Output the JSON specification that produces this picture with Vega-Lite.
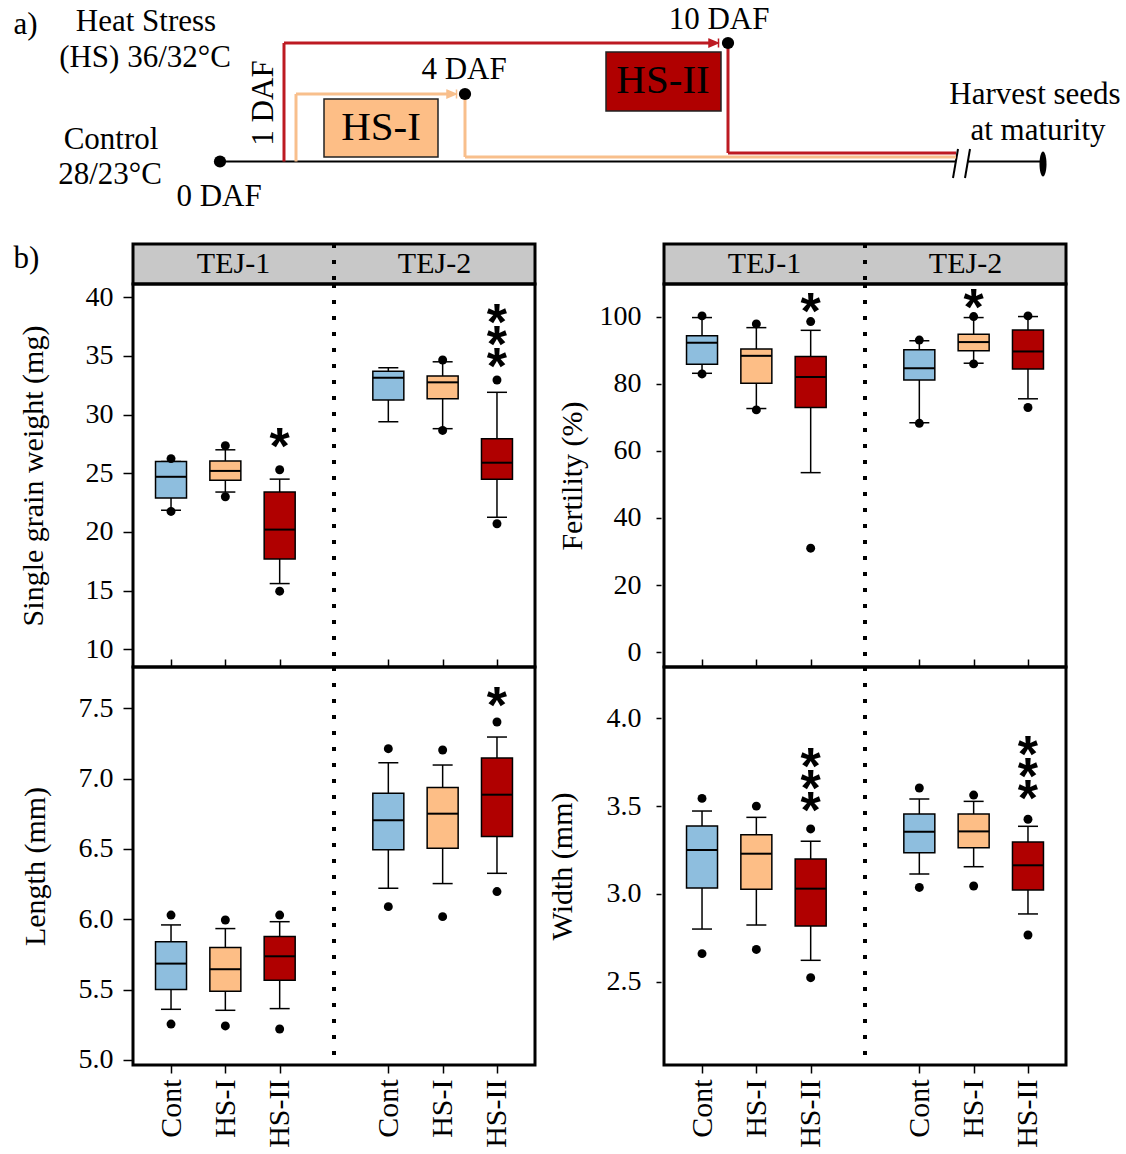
{
  "$schema": "https://vega.github.io/schema/vega-lite/v6.json",
  "padding": {"left": 11, "top": 0, "right": 0, "bottom": 0},
  "autosize": {"type": "pad"},
  "spacing": -4,
  "resolve": {"scale": {"x": "independent", "y": "independent", "color": "independent", "stroke": "independent"}},
  "datasets": {
    "boxes": [
      {"panel": "weight", "geno": "TEJ-1", "trt": "Cont", "group": "TEJ-1 Cont", "lo": 21.85, "q1": 22.9, "med": 24.7, "q3": 26.0, "hi": 26.0},
      {"panel": "weight", "geno": "TEJ-1", "trt": "HS-I", "group": "TEJ-1 HS-I", "lo": 23.4, "q1": 24.4, "med": 25.2, "q3": 26.05, "hi": 27.0},
      {"panel": "weight", "geno": "TEJ-1", "trt": "HS-II", "group": "TEJ-1 HS-II", "lo": 15.6, "q1": 17.7, "med": 20.2, "q3": 23.4, "hi": 24.5},
      {"panel": "weight", "geno": "TEJ-2", "trt": "Cont", "group": "TEJ-2 Cont", "lo": 29.4, "q1": 31.25, "med": 33.15, "q3": 33.7, "hi": 34.0},
      {"panel": "weight", "geno": "TEJ-2", "trt": "HS-I", "group": "TEJ-2 HS-I", "lo": 28.8, "q1": 31.35, "med": 32.75, "q3": 33.3, "hi": 34.5},
      {"panel": "weight", "geno": "TEJ-2", "trt": "HS-II", "group": "TEJ-2 HS-II", "lo": 21.25, "q1": 24.5, "med": 25.9, "q3": 27.95, "hi": 31.9},
      {"panel": "fertility", "geno": "TEJ-1", "trt": "Cont", "group": "TEJ-1 Cont", "lo": 83.1, "q1": 85.8, "med": 92.2, "q3": 94.3, "hi": 99.7},
      {"panel": "fertility", "geno": "TEJ-1", "trt": "HS-I", "group": "TEJ-1 HS-I", "lo": 72.6, "q1": 80.1, "med": 88.3, "q3": 90.3, "hi": 96.7},
      {"panel": "fertility", "geno": "TEJ-1", "trt": "HS-II", "group": "TEJ-1 HS-II", "lo": 53.5, "q1": 72.9, "med": 82.0, "q3": 88.1, "hi": 95.9},
      {"panel": "fertility", "geno": "TEJ-2", "trt": "Cont", "group": "TEJ-2 Cont", "lo": 68.4, "q1": 81.1, "med": 84.6, "q3": 90.1, "hi": 92.8},
      {"panel": "fertility", "geno": "TEJ-2", "trt": "HS-I", "group": "TEJ-2 HS-I", "lo": 86.1, "q1": 89.8, "med": 92.4, "q3": 94.7, "hi": 99.7},
      {"panel": "fertility", "geno": "TEJ-2", "trt": "HS-II", "group": "TEJ-2 HS-II", "lo": 75.5, "q1": 84.4, "med": 89.6, "q3": 96.0, "hi": 100.0},
      {"panel": "length", "geno": "TEJ-1", "trt": "Cont", "group": "TEJ-1 Cont", "lo": 5.36, "q1": 5.5, "med": 5.685, "q3": 5.84, "hi": 5.96},
      {"panel": "length", "geno": "TEJ-1", "trt": "HS-I", "group": "TEJ-1 HS-I", "lo": 5.353, "q1": 5.488, "med": 5.645, "q3": 5.8, "hi": 5.934},
      {"panel": "length", "geno": "TEJ-1", "trt": "HS-II", "group": "TEJ-1 HS-II", "lo": 5.365, "q1": 5.566, "med": 5.737, "q3": 5.877, "hi": 5.983},
      {"panel": "length", "geno": "TEJ-2", "trt": "Cont", "group": "TEJ-2 Cont", "lo": 6.22, "q1": 6.495, "med": 6.704, "q3": 6.896, "hi": 7.114},
      {"panel": "length", "geno": "TEJ-2", "trt": "HS-I", "group": "TEJ-2 HS-I", "lo": 6.254, "q1": 6.505, "med": 6.751, "q3": 6.938, "hi": 7.097},
      {"panel": "length", "geno": "TEJ-2", "trt": "HS-II", "group": "TEJ-2 HS-II", "lo": 6.327, "q1": 6.588, "med": 6.886, "q3": 7.147, "hi": 7.296},
      {"panel": "width", "geno": "TEJ-1", "trt": "Cont", "group": "TEJ-1 Cont", "lo": 2.8, "q1": 3.034, "med": 3.25, "q3": 3.387, "hi": 3.472},
      {"panel": "width", "geno": "TEJ-1", "trt": "HS-I", "group": "TEJ-1 HS-I", "lo": 2.823, "q1": 3.026, "med": 3.229, "q3": 3.337, "hi": 3.436},
      {"panel": "width", "geno": "TEJ-1", "trt": "HS-II", "group": "TEJ-1 HS-II", "lo": 2.622, "q1": 2.817, "med": 3.03, "q3": 3.199, "hi": 3.3},
      {"panel": "width", "geno": "TEJ-2", "trt": "Cont", "group": "TEJ-2 Cont", "lo": 3.113, "q1": 3.235, "med": 3.354, "q3": 3.455, "hi": 3.54},
      {"panel": "width", "geno": "TEJ-2", "trt": "HS-I", "group": "TEJ-2 HS-I", "lo": 3.155, "q1": 3.263, "med": 3.356, "q3": 3.455, "hi": 3.527},
      {"panel": "width", "geno": "TEJ-2", "trt": "HS-II", "group": "TEJ-2 HS-II", "lo": 2.886, "q1": 3.022, "med": 3.163, "q3": 3.296, "hi": 3.385}
    ],
    "outliers": [
      {"panel": "weight", "group": "TEJ-1 Cont", "value": 26.25}, {"panel": "weight", "group": "TEJ-1 Cont", "value": 21.75},
      {"panel": "weight", "group": "TEJ-1 HS-I", "value": 27.35}, {"panel": "weight", "group": "TEJ-1 HS-I", "value": 23.0},
      {"panel": "weight", "group": "TEJ-1 HS-II", "value": 25.3}, {"panel": "weight", "group": "TEJ-1 HS-II", "value": 14.95},
      {"panel": "weight", "group": "TEJ-2 HS-I", "value": 34.65}, {"panel": "weight", "group": "TEJ-2 HS-I", "value": 28.65},
      {"panel": "weight", "group": "TEJ-2 HS-II", "value": 32.95}, {"panel": "weight", "group": "TEJ-2 HS-II", "value": 20.7},
      {"panel": "fertility", "group": "TEJ-1 Cont", "value": 100.2}, {"panel": "fertility", "group": "TEJ-1 Cont", "value": 82.9},
      {"panel": "fertility", "group": "TEJ-1 HS-I", "value": 97.8}, {"panel": "fertility", "group": "TEJ-1 HS-I", "value": 72.2},
      {"panel": "fertility", "group": "TEJ-1 HS-II", "value": 98.5}, {"panel": "fertility", "group": "TEJ-1 HS-II", "value": 31.0},
      {"panel": "fertility", "group": "TEJ-2 Cont", "value": 93.0}, {"panel": "fertility", "group": "TEJ-2 Cont", "value": 68.2},
      {"panel": "fertility", "group": "TEJ-2 HS-I", "value": 100.0}, {"panel": "fertility", "group": "TEJ-2 HS-I", "value": 85.9},
      {"panel": "fertility", "group": "TEJ-2 HS-II", "value": 100.2}, {"panel": "fertility", "group": "TEJ-2 HS-II", "value": 72.9},
      {"panel": "length", "group": "TEJ-1 Cont", "value": 6.03}, {"panel": "length", "group": "TEJ-1 Cont", "value": 5.255},
      {"panel": "length", "group": "TEJ-1 HS-I", "value": 5.995}, {"panel": "length", "group": "TEJ-1 HS-I", "value": 5.242},
      {"panel": "length", "group": "TEJ-1 HS-II", "value": 6.03}, {"panel": "length", "group": "TEJ-1 HS-II", "value": 5.22},
      {"panel": "length", "group": "TEJ-2 Cont", "value": 7.213}, {"panel": "length", "group": "TEJ-2 Cont", "value": 6.09},
      {"panel": "length", "group": "TEJ-2 HS-I", "value": 7.204}, {"panel": "length", "group": "TEJ-2 HS-I", "value": 6.019},
      {"panel": "length", "group": "TEJ-2 HS-II", "value": 7.403}, {"panel": "length", "group": "TEJ-2 HS-II", "value": 6.197},
      {"panel": "width", "group": "TEJ-1 Cont", "value": 3.544}, {"panel": "width", "group": "TEJ-1 Cont", "value": 2.66},
      {"panel": "width", "group": "TEJ-1 HS-I", "value": 3.5}, {"panel": "width", "group": "TEJ-1 HS-I", "value": 2.684},
      {"panel": "width", "group": "TEJ-1 HS-II", "value": 3.37}, {"panel": "width", "group": "TEJ-1 HS-II", "value": 2.523},
      {"panel": "width", "group": "TEJ-2 Cont", "value": 3.603}, {"panel": "width", "group": "TEJ-2 Cont", "value": 3.037},
      {"panel": "width", "group": "TEJ-2 HS-I", "value": 3.563}, {"panel": "width", "group": "TEJ-2 HS-I", "value": 3.045},
      {"panel": "width", "group": "TEJ-2 HS-II", "value": 3.425}, {"panel": "width", "group": "TEJ-2 HS-II", "value": 2.766}
    ],
    "stars": [
      {"panel": "weight", "group": "TEJ-1 HS-II", "y": 28.0, "label": "*"},
      {"panel": "weight", "group": "TEJ-2 HS-II", "y": 38.5, "label": "*\n*\n*"},
      {"panel": "fertility", "group": "TEJ-1 HS-II", "y": 104.0, "label": "*"},
      {"panel": "fertility", "group": "TEJ-2 HS-I", "y": 105.2, "label": "*"},
      {"panel": "length", "group": "TEJ-2 HS-II", "y": 7.58, "label": "*"},
      {"panel": "width", "group": "TEJ-1 HS-II", "y": 3.77, "label": "*\n*\n*"},
      {"panel": "width", "group": "TEJ-2 HS-II", "y": 3.84, "label": "*\n*\n*"}
    ],
    "segments": [
      {"series": "Control", "x": 220, "y": 161.5, "x2": 956, "y2": 161.5},
      {"series": "Control", "x": 968, "y": 161.5, "x2": 1041, "y2": 161.5},
      {"series": "Control", "x": 953, "y": 178, "x2": 958, "y2": 149},
      {"series": "Control", "x": 965, "y": 178, "x2": 970, "y2": 149},
      {"series": "HS-II", "x": 284, "y": 161.5, "x2": 284, "y2": 43},
      {"series": "HS-II", "x": 284, "y": 43, "x2": 712, "y2": 43},
      {"series": "HS-II", "x": 728, "y": 43, "x2": 728, "y2": 153},
      {"series": "HS-II", "x": 728, "y": 153, "x2": 956, "y2": 153},
      {"series": "HS-I", "x": 296, "y": 161.5, "x2": 296, "y2": 94},
      {"series": "HS-I", "x": 296, "y": 94, "x2": 450, "y2": 94},
      {"series": "HS-I", "x": 465, "y": 94, "x2": 465, "y2": 157},
      {"series": "HS-I", "x": 465, "y": 157, "x2": 956, "y2": 157}
    ],
    "arrows": [
      {"series": "HS-I", "x": 452, "y": 94},
      {"series": "HS-II", "x": 714, "y": 43}
    ],
    "dots": [
      {"label": "0 DAF", "x": 220, "y": 161.5},
      {"label": "4 DAF", "x": 465, "y": 94},
      {"label": "10 DAF", "x": 728, "y": 43}
    ],
    "ends": [{"label": "maturity", "x": 1043, "y": 164}],
    "tboxes": [
      {"series": "HS-I", "x": 324, "x2": 438, "y": 99, "y2": 157},
      {"series": "HS-II", "x": 606, "x2": 721, "y": 52, "y2": 111}
    ],
    "labelsA": [
      {"x": 25.5, "y": 25, "label": "a)"},
      {"x": 146, "y": 22, "label": "Heat Stress"},
      {"x": 145, "y": 58, "label": "(HS) 36/32°C"},
      {"x": 111, "y": 140, "label": "Control"},
      {"x": 110, "y": 175, "label": "28/23°C"},
      {"x": 219, "y": 197, "label": "0 DAF"},
      {"x": 464, "y": 70, "label": "4 DAF"},
      {"x": 719, "y": 20, "label": "10 DAF"},
      {"x": 1035, "y": 95, "label": "Harvest seeds"},
      {"x": 1038, "y": 131, "label": "at maturity"}
    ],
    "rotlabels": [{"x": 264, "y": 103, "label": "1 DAF"}],
    "boxlabels": [
      {"x": 381, "y": 128, "label": "HS-I"},
      {"x": 663, "y": 81, "label": "HS-II"}
    ]
  },
  "vconcat": [
    {
      "width": 993,
      "height": 244,
      "view": {"fill": "white", "stroke": null},
      "encoding": {
        "x": {"field": "x", "type": "quantitative", "scale": {"domain": [133, 1126], "nice": false, "zero": false}, "axis": null},
        "y": {"field": "y", "type": "quantitative", "scale": {"domain": [0, 244], "nice": false, "zero": false, "reverse": true}, "axis": null}
      },
      "layer": [
        {"data": {"name": "tboxes"}, "mark": {"type": "rect", "stroke": "#222222", "strokeWidth": 1.5},
         "encoding": {"x2": {"field": "x2"}, "y2": {"field": "y2"},
                      "fill": {"field": "series", "type": "nominal", "scale": {"domain": ["Cont", "HS-I", "HS-II"], "range": ["#8ebede", "#fdbe86", "#b00000"]}, "legend": null}}},
        {"data": {"name": "segments"}, "transform": [{"filter": "datum.series === 'Control'"}],
         "mark": {"type": "rule", "color": "black", "strokeWidth": 2},
         "encoding": {"x2": {"field": "x2"}, "y2": {"field": "y2"}}},
        {"data": {"name": "segments"}, "transform": [{"filter": "datum.series !== 'Control'"}],
         "mark": {"type": "rule", "strokeWidth": 3},
         "encoding": {"x2": {"field": "x2"}, "y2": {"field": "y2"},
                      "color": {"field": "series", "type": "nominal", "scale": {"domain": ["HS-I", "HS-II"], "range": ["#f8bf8c", "#bd1a22"]}, "legend": null}}},
        {"data": {"name": "arrows"},
         "mark": {"type": "point", "shape": "M-1,-0.75L0.8,0L-1,0.75Z M0.9,-0.9L0.9,0.9", "filled": true, "size": 100, "opacity": 1, "strokeWidth": 1.5},
         "encoding": {"color": {"field": "series", "type": "nominal", "scale": {"domain": ["HS-I", "HS-II"], "range": ["#f8bf8c", "#bd1a22"]}, "legend": null},
                      "stroke": {"field": "series", "type": "nominal", "scale": {"domain": ["HS-I", "HS-II"], "range": ["#f8bf8c", "#bd1a22"]}, "legend": null}}},
        {"data": {"name": "dots"}, "mark": {"type": "point", "filled": true, "color": "black", "size": 150, "opacity": 1}},
        {"data": {"name": "ends"}, "mark": {"type": "point", "shape": "M-0.28,0A0.28,1 0 1,0 0.28,0A0.28,1 0 1,0 -0.28,0Z", "filled": true, "color": "black", "size": 625, "opacity": 1}},
        {"data": {"name": "labelsA"}, "mark": {"type": "text", "fontSize": 31, "font": "Liberation Serif", "align": "center", "baseline": "middle", "color": "black"},
         "encoding": {"text": {"field": "label"}}},
        {"data": {"name": "rotlabels"}, "mark": {"type": "text", "fontSize": 31, "font": "Liberation Serif", "align": "center", "baseline": "middle", "angle": 270, "color": "black"},
         "encoding": {"text": {"field": "label"}}},
        {"data": {"name": "boxlabels"}, "mark": {"type": "text", "fontSize": 41, "font": "Liberation Serif", "align": "center", "baseline": "middle", "color": "black"},
         "encoding": {"text": {"field": "label"}}}
      ]
    },
    {
      "hconcat": [
        {
          "vconcat": [
            {
              "width": 402, "height": 40,
              "view": {"fill": "#c8c8c8", "stroke": "black", "strokeWidth": 3},
              "data": {"values": [{"geno": "TEJ-1"}, {"geno": "TEJ-2"}]},
              "encoding": {"x": {"field": "geno", "type": "nominal", "scale": {"type": "band", "paddingInner": 0, "paddingOuter": 0},
                "axis": {"orient": "bottom", "labels": false, "ticks": false, "domain": false, "title": "b)", "titleAngle": 0, "titleX": -120, "titleY": -26, "titleAlign": "left", "titleBaseline": "middle", "titleFontSize": 31}}},
              "layer": [
                {"mark": {"type": "text", "fontSize": 30, "font": "Liberation Serif", "color": "black"}, "encoding": {"text": {"field": "geno"}}},
                {"transform": [{"filter": "datum.geno === 'TEJ-2'"}], "mark": {"type": "rule", "color": "black", "strokeWidth": 4, "strokeDash": [4, 12]},
                 "encoding": {"x": {"field": "geno", "type": "nominal", "bandPosition": 0}}}
              ]
            },
            {
              "width": 402, "height": 383,
              "encoding": {"x": {"field": "group", "type": "nominal",
                "scale": {"type": "point", "domain": ["TEJ-1 Cont", "TEJ-1 HS-I", "TEJ-1 HS-II", "|", "TEJ-2 Cont", "TEJ-2 HS-I", "TEJ-2 HS-II"], "padding": 0.7},
                "axis": {"values": ["TEJ-1 Cont", "TEJ-1 HS-I", "TEJ-1 HS-II", "TEJ-2 Cont", "TEJ-2 HS-I", "TEJ-2 HS-II"], "labels": false, "tickSize": -8, "title": null}}},
              "layer": [
                {"data": {"values": [{"group": "|"}]}, "mark": {"type": "rule", "color": "black", "strokeWidth": 4, "strokeDash": [4, 12]}, "encoding": {}},
                {"data": {"name": "boxes"}, "transform": [{"filter": "datum.panel === 'weight'"}], "mark": {"type": "rule", "color": "black", "strokeWidth": 1.5},
                 "encoding": {"y": {"field": "lo", "type": "quantitative", "title": "Single grain weight (mg)", "scale": {"domain": [8.49, 41.13], "nice": false, "zero": false},
                   "axis": {"values": [10, 15, 20, 25, 30, 35, 40], "tickSize": 10, "labelPadding": 10, "titlePadding": 37}}, "y2": {"field": "hi"}}},
                {"data": {"name": "boxes"}, "transform": [{"filter": "datum.panel === 'weight'"}], "mark": {"type": "tick", "orient": "horizontal", "color": "black", "size": 20, "thickness": 1.5, "opacity": 1},
                 "encoding": {"y": {"field": "lo", "type": "quantitative", "title": "Single grain weight (mg)"}}},
                {"data": {"name": "boxes"}, "transform": [{"filter": "datum.panel === 'weight'"}], "mark": {"type": "tick", "orient": "horizontal", "color": "black", "size": 20, "thickness": 1.5, "opacity": 1},
                 "encoding": {"y": {"field": "hi", "type": "quantitative", "title": "Single grain weight (mg)"}}},
                {"data": {"name": "boxes"}, "transform": [{"filter": "datum.panel === 'weight'"}], "mark": {"type": "bar", "size": 31, "stroke": "black", "strokeWidth": 1.5},
                 "encoding": {"y": {"field": "q1", "type": "quantitative", "title": "Single grain weight (mg)"}, "y2": {"field": "q3"},
                   "fill": {"field": "trt", "type": "nominal", "scale": {"domain": ["Cont", "HS-I", "HS-II"], "range": ["#8ebede", "#fdbe86", "#b00000"]}, "legend": null}}},
                {"data": {"name": "boxes"}, "transform": [{"filter": "datum.panel === 'weight'"}], "mark": {"type": "tick", "orient": "horizontal", "color": "black", "size": 31, "thickness": 2, "opacity": 1},
                 "encoding": {"y": {"field": "med", "type": "quantitative", "title": "Single grain weight (mg)"}}},
                {"data": {"name": "outliers"}, "transform": [{"filter": "datum.panel === 'weight'"}], "mark": {"type": "point", "filled": true, "color": "black", "size": 80, "opacity": 1},
                 "encoding": {"y": {"field": "value", "type": "quantitative", "title": "Single grain weight (mg)"}}},
                {"data": {"name": "stars"}, "transform": [{"filter": "datum.panel === 'weight'"}], "mark": {"type": "text", "font": "Liberation Sans", "fontWeight": "bold", "fontSize": 52, "baseline": "alphabetic", "lineBreak": "\n", "lineHeight": 22, "dy": 25.5, "color": "black"},
                 "encoding": {"y": {"field": "y", "type": "quantitative", "title": "Single grain weight (mg)"}, "text": {"field": "label"}}}
              ]
            },
            {
              "width": 402, "height": 398,
              "encoding": {"x": {"field": "group", "type": "nominal",
                "scale": {"type": "point", "domain": ["TEJ-1 Cont", "TEJ-1 HS-I", "TEJ-1 HS-II", "|", "TEJ-2 Cont", "TEJ-2 HS-I", "TEJ-2 HS-II"], "padding": 0.7},
                "axis": {"values": ["TEJ-1 Cont", "TEJ-1 HS-I", "TEJ-1 HS-II", "TEJ-2 Cont", "TEJ-2 HS-I", "TEJ-2 HS-II"], "labelExpr": "split(datum.label, ' ')[1]", "labelAngle": -90, "tickSize": 8, "labelPadding": 6, "labelFontSize": 30, "title": null}}},
              "layer": [
                {"data": {"values": [{"group": "|"}]}, "mark": {"type": "rule", "color": "black", "strokeWidth": 4, "strokeDash": [4, 12]}, "encoding": {}},
                {"data": {"name": "boxes"}, "transform": [{"filter": "datum.panel === 'length'"}], "mark": {"type": "rule", "color": "black", "strokeWidth": 1.5},
                 "encoding": {"y": {"field": "lo", "type": "quantitative", "title": "Length (mm)", "scale": {"domain": [4.964, 7.794], "nice": false, "zero": false},
                   "axis": {"values": [5.0, 5.5, 6.0, 6.5, 7.0, 7.5], "format": ".1f", "tickSize": 10, "labelPadding": 10, "titlePadding": 28}}, "y2": {"field": "hi"}}},
                {"data": {"name": "boxes"}, "transform": [{"filter": "datum.panel === 'length'"}], "mark": {"type": "tick", "orient": "horizontal", "color": "black", "size": 20, "thickness": 1.5, "opacity": 1},
                 "encoding": {"y": {"field": "lo", "type": "quantitative", "title": "Length (mm)"}}},
                {"data": {"name": "boxes"}, "transform": [{"filter": "datum.panel === 'length'"}], "mark": {"type": "tick", "orient": "horizontal", "color": "black", "size": 20, "thickness": 1.5, "opacity": 1},
                 "encoding": {"y": {"field": "hi", "type": "quantitative", "title": "Length (mm)"}}},
                {"data": {"name": "boxes"}, "transform": [{"filter": "datum.panel === 'length'"}], "mark": {"type": "bar", "size": 31, "stroke": "black", "strokeWidth": 1.5},
                 "encoding": {"y": {"field": "q1", "type": "quantitative", "title": "Length (mm)"}, "y2": {"field": "q3"},
                   "fill": {"field": "trt", "type": "nominal", "scale": {"domain": ["Cont", "HS-I", "HS-II"], "range": ["#8ebede", "#fdbe86", "#b00000"]}, "legend": null}}},
                {"data": {"name": "boxes"}, "transform": [{"filter": "datum.panel === 'length'"}], "mark": {"type": "tick", "orient": "horizontal", "color": "black", "size": 31, "thickness": 2, "opacity": 1},
                 "encoding": {"y": {"field": "med", "type": "quantitative", "title": "Length (mm)"}}},
                {"data": {"name": "outliers"}, "transform": [{"filter": "datum.panel === 'length'"}], "mark": {"type": "point", "filled": true, "color": "black", "size": 80, "opacity": 1},
                 "encoding": {"y": {"field": "value", "type": "quantitative", "title": "Length (mm)"}}},
                {"data": {"name": "stars"}, "transform": [{"filter": "datum.panel === 'length'"}], "mark": {"type": "text", "font": "Liberation Sans", "fontWeight": "bold", "fontSize": 52, "baseline": "alphabetic", "lineBreak": "\n", "lineHeight": 22, "dy": 25.5, "color": "black"},
                 "encoding": {"y": {"field": "y", "type": "quantitative", "title": "Length (mm)"}, "text": {"field": "label"}}}
              ]
            }
          ],
          "spacing": 0,
          "bounds": "flush",
          "resolve": {"scale": {"x": "independent", "y": "independent"}}
        },
        {
          "vconcat": [
            {
              "width": 402, "height": 40,
              "view": {"fill": "#c8c8c8", "stroke": "black", "strokeWidth": 3},
              "data": {"values": [{"geno": "TEJ-1"}, {"geno": "TEJ-2"}]},
              "encoding": {"x": {"field": "geno", "type": "nominal", "scale": {"type": "band", "paddingInner": 0, "paddingOuter": 0}, "axis": null}},
              "layer": [
                {"mark": {"type": "text", "fontSize": 30, "font": "Liberation Serif", "color": "black"}, "encoding": {"text": {"field": "geno"}}},
                {"transform": [{"filter": "datum.geno === 'TEJ-2'"}], "mark": {"type": "rule", "color": "black", "strokeWidth": 4, "strokeDash": [4, 12]},
                 "encoding": {"x": {"field": "geno", "type": "nominal", "bandPosition": 0}}}
              ]
            },
            {
              "width": 402, "height": 383,
              "encoding": {"x": {"field": "group", "type": "nominal",
                "scale": {"type": "point", "domain": ["TEJ-1 Cont", "TEJ-1 HS-I", "TEJ-1 HS-II", "|", "TEJ-2 Cont", "TEJ-2 HS-I", "TEJ-2 HS-II"], "padding": 0.7},
                "axis": {"values": ["TEJ-1 Cont", "TEJ-1 HS-I", "TEJ-1 HS-II", "TEJ-2 Cont", "TEJ-2 HS-I", "TEJ-2 HS-II"], "labels": false, "tickSize": -8, "title": null}}},
              "layer": [
                {"data": {"values": [{"group": "|"}]}, "mark": {"type": "rule", "color": "black", "strokeWidth": 4, "strokeDash": [4, 12]}, "encoding": {}},
                {"data": {"name": "boxes"}, "transform": [{"filter": "datum.panel === 'fertility'"}], "mark": {"type": "rule", "color": "black", "strokeWidth": 1.5},
                 "encoding": {"y": {"field": "lo", "type": "quantitative", "title": "Fertility (%)", "scale": {"domain": [-4.4, 109.7], "nice": false, "zero": false},
                   "axis": {"values": [0, 20, 40, 60, 80, 100], "offset": 3, "tickSize": 5, "labelPadding": 15, "titlePadding": 12}}, "y2": {"field": "hi"}}},
                {"data": {"name": "boxes"}, "transform": [{"filter": "datum.panel === 'fertility'"}], "mark": {"type": "tick", "orient": "horizontal", "color": "black", "size": 20, "thickness": 1.5, "opacity": 1},
                 "encoding": {"y": {"field": "lo", "type": "quantitative", "title": "Fertility (%)"}}},
                {"data": {"name": "boxes"}, "transform": [{"filter": "datum.panel === 'fertility'"}], "mark": {"type": "tick", "orient": "horizontal", "color": "black", "size": 20, "thickness": 1.5, "opacity": 1},
                 "encoding": {"y": {"field": "hi", "type": "quantitative", "title": "Fertility (%)"}}},
                {"data": {"name": "boxes"}, "transform": [{"filter": "datum.panel === 'fertility'"}], "mark": {"type": "bar", "size": 31, "stroke": "black", "strokeWidth": 1.5},
                 "encoding": {"y": {"field": "q1", "type": "quantitative", "title": "Fertility (%)"}, "y2": {"field": "q3"},
                   "fill": {"field": "trt", "type": "nominal", "scale": {"domain": ["Cont", "HS-I", "HS-II"], "range": ["#8ebede", "#fdbe86", "#b00000"]}, "legend": null}}},
                {"data": {"name": "boxes"}, "transform": [{"filter": "datum.panel === 'fertility'"}], "mark": {"type": "tick", "orient": "horizontal", "color": "black", "size": 31, "thickness": 2, "opacity": 1},
                 "encoding": {"y": {"field": "med", "type": "quantitative", "title": "Fertility (%)"}}},
                {"data": {"name": "outliers"}, "transform": [{"filter": "datum.panel === 'fertility'"}], "mark": {"type": "point", "filled": true, "color": "black", "size": 80, "opacity": 1},
                 "encoding": {"y": {"field": "value", "type": "quantitative", "title": "Fertility (%)"}}},
                {"data": {"name": "stars"}, "transform": [{"filter": "datum.panel === 'fertility'"}], "mark": {"type": "text", "font": "Liberation Sans", "fontWeight": "bold", "fontSize": 52, "baseline": "alphabetic", "lineBreak": "\n", "lineHeight": 22, "dy": 25.5, "color": "black"},
                 "encoding": {"y": {"field": "y", "type": "quantitative", "title": "Fertility (%)"}, "text": {"field": "label"}}}
              ]
            },
            {
              "width": 402, "height": 398,
              "encoding": {"x": {"field": "group", "type": "nominal",
                "scale": {"type": "point", "domain": ["TEJ-1 Cont", "TEJ-1 HS-I", "TEJ-1 HS-II", "|", "TEJ-2 Cont", "TEJ-2 HS-I", "TEJ-2 HS-II"], "padding": 0.7},
                "axis": {"values": ["TEJ-1 Cont", "TEJ-1 HS-I", "TEJ-1 HS-II", "TEJ-2 Cont", "TEJ-2 HS-I", "TEJ-2 HS-II"], "labelExpr": "split(datum.label, ' ')[1]", "labelAngle": -90, "tickSize": 8, "labelPadding": 6, "labelFontSize": 30, "title": null}}},
              "layer": [
                {"data": {"values": [{"group": "|"}]}, "mark": {"type": "rule", "color": "black", "strokeWidth": 4, "strokeDash": [4, 12]}, "encoding": {}},
                {"data": {"name": "boxes"}, "transform": [{"filter": "datum.panel === 'width'"}], "mark": {"type": "rule", "color": "black", "strokeWidth": 1.5},
                 "encoding": {"y": {"field": "lo", "type": "quantitative", "title": "Width (mm)", "scale": {"domain": [2.026, 4.292], "nice": false, "zero": false},
                   "axis": {"values": [2.5, 3.0, 3.5, 4.0], "format": ".1f", "offset": 3, "tickSize": 5, "labelPadding": 15, "titlePadding": 29}}, "y2": {"field": "hi"}}},
                {"data": {"name": "boxes"}, "transform": [{"filter": "datum.panel === 'width'"}], "mark": {"type": "tick", "orient": "horizontal", "color": "black", "size": 20, "thickness": 1.5, "opacity": 1},
                 "encoding": {"y": {"field": "lo", "type": "quantitative", "title": "Width (mm)"}}},
                {"data": {"name": "boxes"}, "transform": [{"filter": "datum.panel === 'width'"}], "mark": {"type": "tick", "orient": "horizontal", "color": "black", "size": 20, "thickness": 1.5, "opacity": 1},
                 "encoding": {"y": {"field": "hi", "type": "quantitative", "title": "Width (mm)"}}},
                {"data": {"name": "boxes"}, "transform": [{"filter": "datum.panel === 'width'"}], "mark": {"type": "bar", "size": 31, "stroke": "black", "strokeWidth": 1.5},
                 "encoding": {"y": {"field": "q1", "type": "quantitative", "title": "Width (mm)"}, "y2": {"field": "q3"},
                   "fill": {"field": "trt", "type": "nominal", "scale": {"domain": ["Cont", "HS-I", "HS-II"], "range": ["#8ebede", "#fdbe86", "#b00000"]}, "legend": null}}},
                {"data": {"name": "boxes"}, "transform": [{"filter": "datum.panel === 'width'"}], "mark": {"type": "tick", "orient": "horizontal", "color": "black", "size": 31, "thickness": 2, "opacity": 1},
                 "encoding": {"y": {"field": "med", "type": "quantitative", "title": "Width (mm)"}}},
                {"data": {"name": "outliers"}, "transform": [{"filter": "datum.panel === 'width'"}], "mark": {"type": "point", "filled": true, "color": "black", "size": 80, "opacity": 1},
                 "encoding": {"y": {"field": "value", "type": "quantitative", "title": "Width (mm)"}}},
                {"data": {"name": "stars"}, "transform": [{"filter": "datum.panel === 'width'"}], "mark": {"type": "text", "font": "Liberation Sans", "fontWeight": "bold", "fontSize": 52, "baseline": "alphabetic", "lineBreak": "\n", "lineHeight": 22, "dy": 25.5, "color": "black"},
                 "encoding": {"y": {"field": "y", "type": "quantitative", "title": "Width (mm)"}, "text": {"field": "label"}}}
              ]
            }
          ],
          "spacing": 0,
          "bounds": "flush",
          "resolve": {"scale": {"x": "independent", "y": "independent"}}
        }
      ],
      "spacing": 8,
      "resolve": {"scale": {"x": "independent", "y": "independent"}}
    }
  ],
  "config": {
    "font": "Liberation Serif",
    "view": {"stroke": "black", "strokeWidth": 3},
    "axis": {"grid": false, "domain": false, "labelFont": "Liberation Serif", "titleFont": "Liberation Serif", "labelColor": "black", "titleColor": "black",
             "tickColor": "black", "tickWidth": 1.5, "labelFontSize": 28, "titleFontSize": 30, "titleFontWeight": "normal"},
    "text": {"font": "Liberation Serif"}
  }
}
